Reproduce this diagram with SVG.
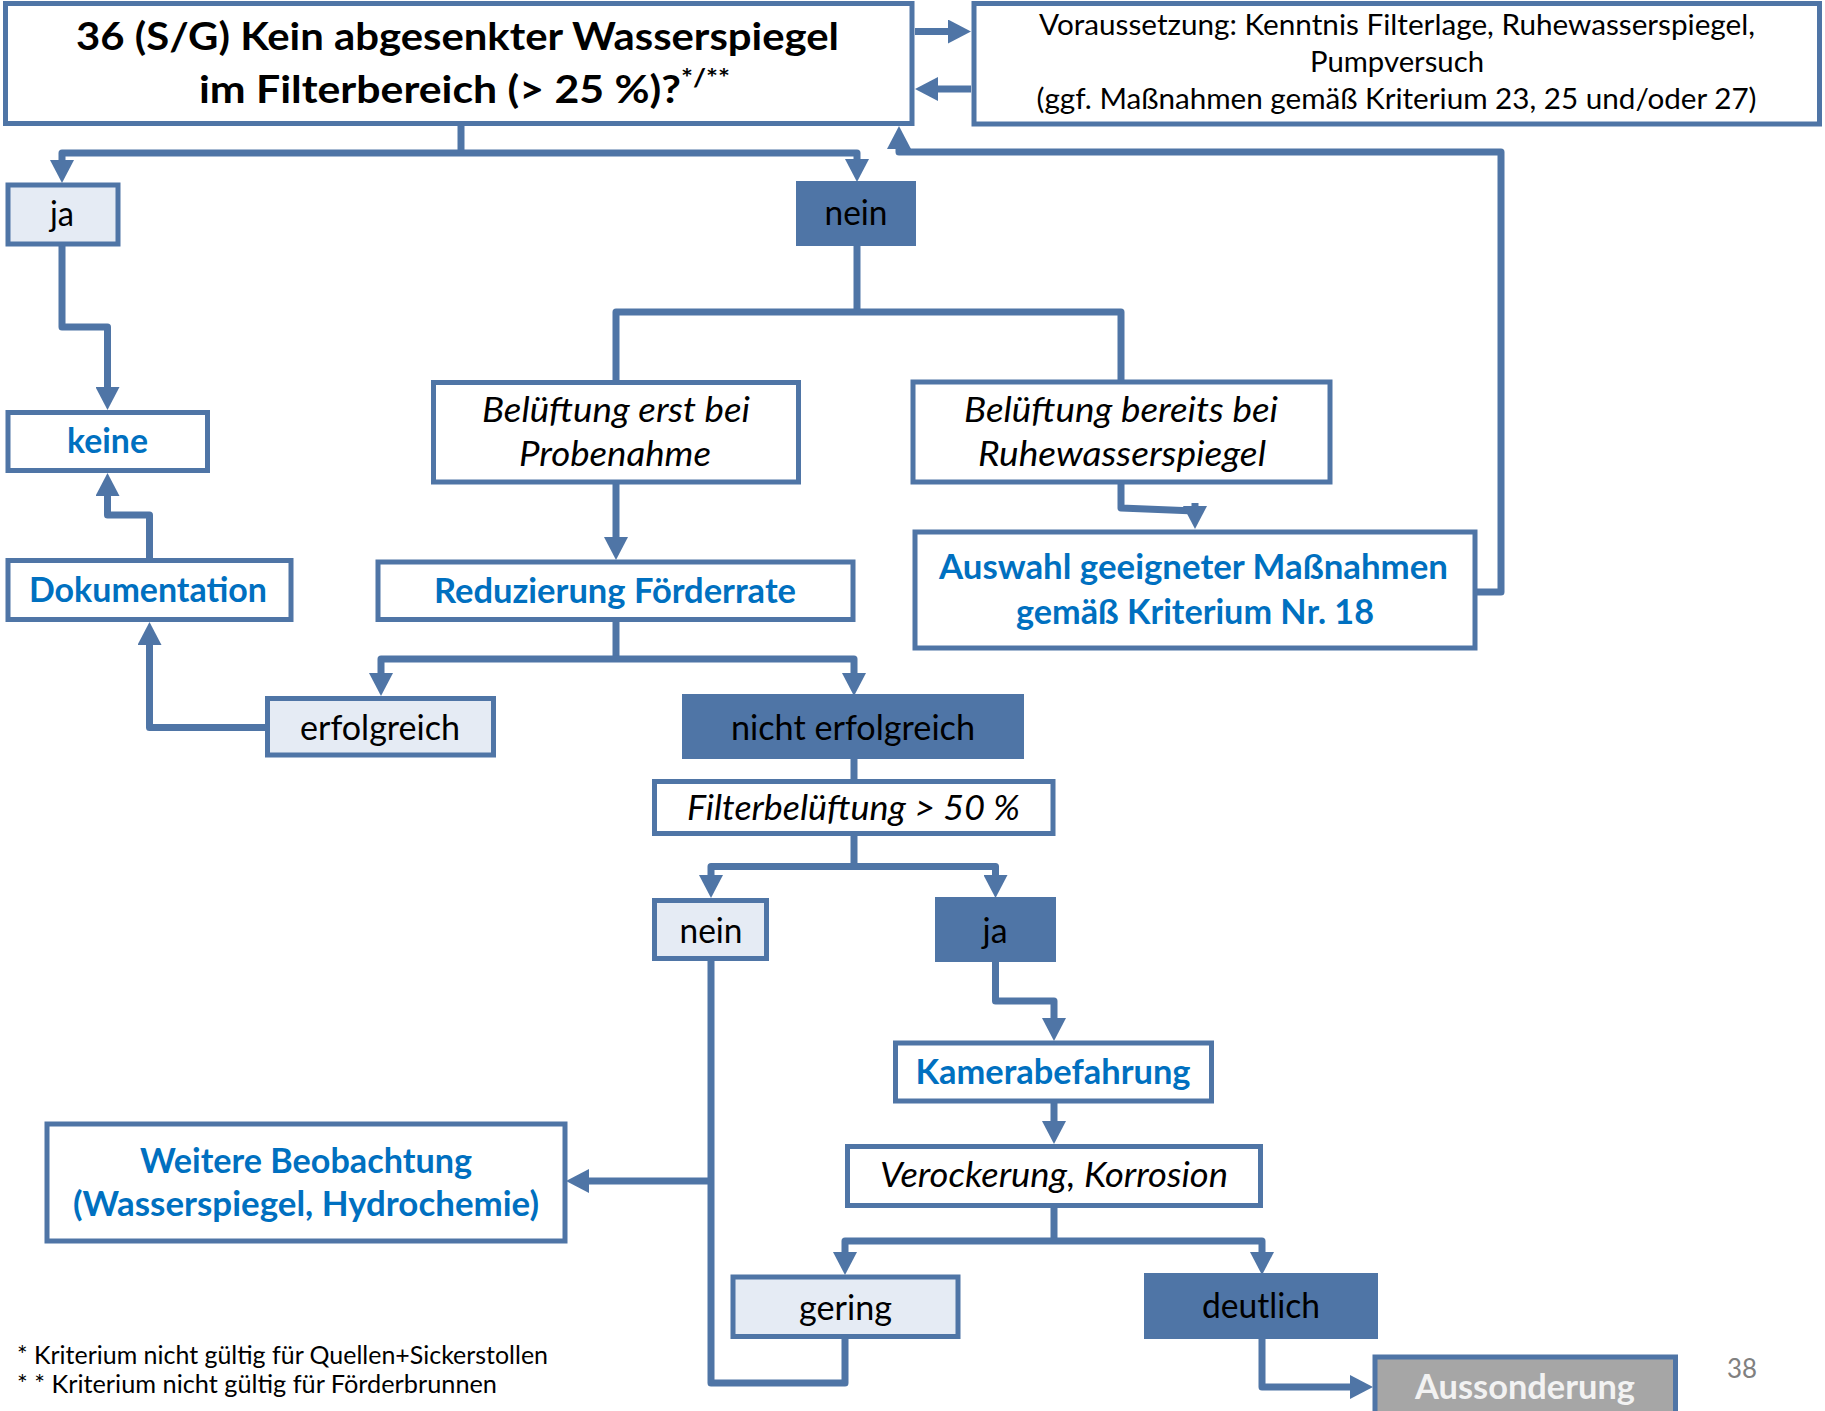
<svg xmlns="http://www.w3.org/2000/svg" width="1825" height="1411" viewBox="0 0 1825 1411">
<defs>
<style>
.box{fill:#ffffff;stroke:#4F75A6;stroke-width:5}
.lt{fill:#E5EBF4;stroke:#4F75A6;stroke-width:5}
.dk{fill:#4F75A6;stroke:#4F75A6;stroke-width:2}
.gr{fill:#A6A6A6;stroke:#4F75A6;stroke-width:5}
.ln{fill:none;stroke:#4F75A6;stroke-width:7;stroke-linejoin:round}
.ar{marker-end:url(#ah)}
text{font-family:Lato,"Liberation Sans",sans-serif;text-anchor:middle}
.t{font-size:34px;fill:#000}
.b{font-size:34px;font-weight:bold;fill:#0070C0}
.i{font-size:34px;font-style:italic;fill:#000}
.s{font-size:28px;fill:#000}
.h{font-size:38px;font-weight:bold;fill:#000}
.f{font-size:25px;fill:#000;text-anchor:start}
</style>
<marker id="ah" markerUnits="userSpaceOnUse" markerWidth="24" markerHeight="24" viewBox="0 0 23 24" refX="1" refY="12" orient="auto">
<path d="M0,0 L23,12 L0,24 z" fill="#4F75A6"/>
</marker>
</defs>
<rect width="1825" height="1411" fill="#ffffff"/>
<g id="connectors">
<path class="ln" d="M461,123 V153"/>
<path class="ln ar" d="M461,153 H62 V161"/>
<path class="ln ar" d="M461,153 H857 V160"/>
<path class="ln ar" d="M1477,592 H1501 V152 H899 V148"/>
<path class="ln ar" d="M915,31.5 H949"/>
<path class="ln ar" d="M971,89 H937"/>
<path class="ln ar" d="M62,244 V327 H107.5 V388"/>
<path class="ln ar" d="M149.5,561 V515 H107.5 V495"/>
<path class="ln ar" d="M267,727.5 H149.5 V644"/>
<path class="ln" d="M857,245 V312"/>
<path class="ln" d="M616,382 V312 H1121 V382"/>
<path class="ln ar" d="M616,482 V538"/>
<path class="ln" d="M1121,482 V508 L1195,511"/>
<path class="ln ar" d="M1195,503 V507"/>
<path class="ln" d="M616,620 V659"/>
<path class="ln ar" d="M616,659 H381 V674"/>
<path class="ln ar" d="M616,659 H854 V674"/>
<path class="ln" d="M854,758 V781"/>
<path class="ln" d="M854,834 V866.5"/>
<path class="ln ar" d="M854,866.5 H711 V876"/>
<path class="ln ar" d="M854,866.5 H995.5 V876"/>
<path class="ln ar" d="M995.5,961 V1001 H1054 V1019"/>
<path class="ln ar" d="M1054,1101 V1122"/>
<path class="ln" d="M1054,1206 V1241"/>
<path class="ln ar" d="M1054,1241 H845 V1253"/>
<path class="ln ar" d="M1054,1241 H1262 V1253"/>
<path class="ln ar" d="M1262,1338 V1387 H1351"/>
<path class="ln" d="M711,959 V1383 H845 V1337"/>
<path class="ln ar" d="M711,1181 H588"/>
</g>
<g id="n-titel">
<rect class="box" x="5.5" y="3.5" width="906.5" height="120"/>
<text class="h" x="457.5" y="50" textLength="763" lengthAdjust="spacingAndGlyphs">36 (S/G) Kein abgesenkter Wasserspiegel</text>
<text class="h" x="199" y="103" style="text-anchor:start" textLength="531" lengthAdjust="spacingAndGlyphs">im Filterbereich (&gt; 25 %)?<tspan font-size="25" dy="-16">*/**</tspan></text>
</g>
<g id="n-voraussetzung">
<rect class="box" x="974" y="3.5" width="845.5" height="120.5"/>
<text class="s" x="1397" y="35" textLength="716" lengthAdjust="spacingAndGlyphs">Voraussetzung: Kenntnis Filterlage, Ruhewasserspiegel,</text>
<text class="s" x="1397" y="72" textLength="174" lengthAdjust="spacingAndGlyphs">Pumpversuch</text>
<text class="s" x="1396.5" y="109" textLength="720" lengthAdjust="spacingAndGlyphs">(ggf. Maßnahmen gemäß Kriterium 23, 25 und/oder 27)</text>
</g>
<g id="n-ja1">
<rect class="lt" x="8" y="185" width="110" height="59"/>
<text class="t" x="62" y="226" textLength="24" lengthAdjust="spacingAndGlyphs">ja</text>
</g>
<g id="n-nein1">
<rect class="dk" x="797" y="182" width="118" height="63"/>
<text class="t" x="856" y="225" textLength="63" lengthAdjust="spacingAndGlyphs">nein</text>
</g>
<g id="n-keine">
<rect class="box" x="8" y="412.5" width="199.5" height="58"/>
<text class="b" x="107.5" y="453" textLength="81" lengthAdjust="spacingAndGlyphs">keine</text>
</g>
<g id="n-dokumentation">
<rect class="box" x="8" y="560.5" width="283" height="59"/>
<text class="b" x="148" y="602" textLength="238" lengthAdjust="spacingAndGlyphs">Dokumentation</text>
</g>
<g id="n-belueftung-erst">
<rect class="box" x="433.5" y="382.5" width="365" height="99.5"/>
<text class="i" x="616" y="422" textLength="268" lengthAdjust="spacingAndGlyphs">Belüftung erst bei</text>
<text class="i" x="615" y="466" textLength="192" lengthAdjust="spacingAndGlyphs">Probenahme</text>
</g>
<g id="n-belueftung-bereits">
<rect class="box" x="913" y="382" width="417" height="100"/>
<text class="i" x="1121" y="422" textLength="314" lengthAdjust="spacingAndGlyphs">Belüftung bereits bei</text>
<text class="i" x="1122" y="466" textLength="288" lengthAdjust="spacingAndGlyphs">Ruhewasserspiegel</text>
</g>
<g id="n-auswahl">
<rect class="box" x="915" y="532" width="560" height="116"/>
<text class="b" x="1193.5" y="579" textLength="509" lengthAdjust="spacingAndGlyphs">Auswahl geeigneter Maßnahmen</text>
<text class="b" x="1195" y="624" textLength="358" lengthAdjust="spacingAndGlyphs">gemäß Kriterium Nr. 18</text>
</g>
<g id="n-reduzierung">
<rect class="box" x="378" y="562" width="475" height="57.5"/>
<text class="b" x="615" y="603" textLength="362" lengthAdjust="spacingAndGlyphs">Reduzierung Förderrate</text>
</g>
<g id="n-erfolgreich">
<rect class="lt" x="267.5" y="698.5" width="226" height="56.5"/>
<text class="t" x="380" y="740" textLength="160" lengthAdjust="spacingAndGlyphs">erfolgreich</text>
</g>
<g id="n-nicht-erfolgreich">
<rect class="dk" x="683" y="695" width="340" height="63"/>
<text class="t" x="853" y="740" textLength="244" lengthAdjust="spacingAndGlyphs">nicht erfolgreich</text>
</g>
<g id="n-filterbelueftung">
<rect class="box" x="654.5" y="781.5" width="398.5" height="52"/>
<text class="i" x="853.5" y="820" textLength="333" lengthAdjust="spacingAndGlyphs">Filterbelüftung &gt; 50 %</text>
</g>
<g id="n-nein2">
<rect class="lt" x="654.5" y="900.5" width="112" height="58"/>
<text class="t" x="711" y="943" textLength="63" lengthAdjust="spacingAndGlyphs">nein</text>
</g>
<g id="n-ja2">
<rect class="dk" x="936" y="898" width="119" height="63"/>
<text class="t" x="995" y="943" textLength="25" lengthAdjust="spacingAndGlyphs">ja</text>
</g>
<g id="n-kamera">
<rect class="box" x="895.5" y="1043" width="316" height="58"/>
<text class="b" x="1053" y="1084" textLength="275" lengthAdjust="spacingAndGlyphs">Kamerabefahrung</text>
</g>
<g id="n-verockerung">
<rect class="box" x="847.5" y="1146.5" width="413" height="59"/>
<text class="i" x="1054" y="1187" textLength="348" lengthAdjust="spacingAndGlyphs">Verockerung, Korrosion</text>
</g>
<g id="n-gering">
<rect class="lt" x="733" y="1277" width="225" height="59.5"/>
<text class="t" x="845.5" y="1320" textLength="93" lengthAdjust="spacingAndGlyphs">gering</text>
</g>
<g id="n-deutlich">
<rect class="dk" x="1145" y="1274" width="232" height="64"/>
<text class="t" x="1261" y="1318" textLength="118" lengthAdjust="spacingAndGlyphs">deutlich</text>
</g>
<g id="n-weitere">
<rect class="box" x="47" y="1124" width="518" height="117"/>
<text class="b" x="306" y="1173" textLength="332" lengthAdjust="spacingAndGlyphs">Weitere Beobachtung</text>
<text class="b" x="306" y="1216" textLength="466" lengthAdjust="spacingAndGlyphs">(Wasserspiegel, Hydrochemie)</text>
</g>
<g id="n-aussonderung">
<rect class="gr" x="1375" y="1357" width="300.5" height="70"/>
<text class="b" x="1525" y="1399" style="fill:#F2F2F2" textLength="220" lengthAdjust="spacingAndGlyphs">Aussonderung</text>
</g>
<g id="footnotes">
<text class="f" x="17" y="1364" textLength="531" lengthAdjust="spacingAndGlyphs">* Kriterium nicht gültig für Quellen+Sickerstollen</text>
<text class="f" x="17" y="1393" textLength="480" lengthAdjust="spacingAndGlyphs">* * Kriterium nicht gültig für Förderbrunnen</text>
<text x="1742" y="1378" style="font-size:26px;fill:#808080" textLength="30" lengthAdjust="spacingAndGlyphs">38</text>
</g>
</svg>
